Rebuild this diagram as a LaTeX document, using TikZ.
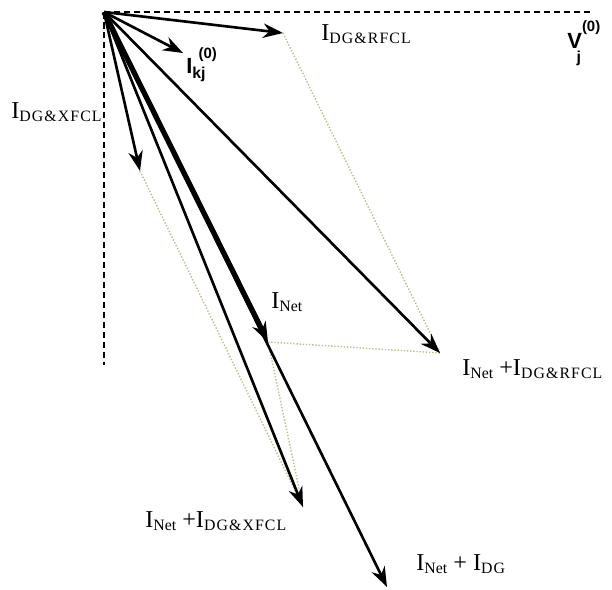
\documentclass[tikz,border=0pt]{standalone}
\usepackage{fontspec}
\setmainfont{Liberation Serif}
\setsansfont{Liberation Sans}
\usepackage{xcolor}
\usepackage{tikz}
\usetikzlibrary{arrows.meta}
\definecolor{dotcol}{RGB}{196,186,140}
\newcommand{\subsz}{\fontsize{9}{9}\selectfont}
\newcommand{\cur}[1]{I\raisebox{-1.8pt}{\subsz\addfontfeature{LetterSpace=7}#1}}
\newcommand{\curnet}{I\raisebox{-1.8pt}{\subsz Net}}
\tikzset{
  vec/.style={-{Stealth[length=4mm, width=2.9mm]}, line width=1.5pt},
  vecthick/.style={vec, line width=3pt},
  axis/.style={dash pattern=on 1.3mm off 0.7mm, line width=0.7pt},
  comp/.style={densely dotted, line width=0.8pt, color=dotcol},
  lbl/.style={font=\fontsize{13.8}{14}\selectfont, inner sep=0pt, anchor=base west},
  slbl/.style={font=\fontsize{12.5}{13}\selectfont\sffamily\bfseries, inner sep=0pt, anchor=base west}
}
\begin{document}
\begin{tikzpicture}[x=0.02cm, y=-0.02cm]
\useasboundingbox (0,0) rectangle (612,589);
% origin, reference axes
\coordinate (O) at (104,12);
\coordinate (hend) at (590,12);
\coordinate (vend) at (104,365);
\draw[axis] (O) -- (hend);
\draw[axis] (O) -- (vend);
% vector tips
\coordinate (rf) at (283,33);
\coordinate (kj) at (183,53);
\coordinate (xf) at (140,171);
\coordinate (net) at (268,342);
\coordinate (netrf) at (440,353);
\coordinate (netxf) at (303,507);
\coordinate (netdg) at (387,587);
% parallelogram sides
\draw[comp] (rf) -- (netrf);
\draw[comp] (net) -- (netrf);
\draw[comp] (xf) -- (netxf);
\draw[comp] (net) -- (netxf);
% vectors
\draw[vec] (O) -- (netdg);
\draw[vec] (O) -- (netxf);
\draw[vec] (O) -- (netrf);
\draw[vecthick] (O) -- (net);
\draw[vec] (O) -- (xf);
\draw[vec] (O) -- (kj);
\draw[vec] (O) -- (rf);
% labels
\node[lbl] (lrf) at (321,40) {\cur{DG\&RFCL}};
\node[lbl] (lxf) at (11,118) {\cur{DG\&XFCL}};
\node[lbl] (lnet) at (271,308) {\curnet};
\node[lbl] (lnetrf) at (462,375) {\curnet\ +\cur{DG\&RFCL}};
\node[lbl] (lnetxf) at (145,527) {\curnet\ +\cur{DG\&XFCL}};
\node[lbl] (lnetdg) at (416,570) {\curnet\ + \cur{DG}};
\node[slbl] (lv) at (567,48) {V\raisebox{9.5pt}{\fontsize{8.5}{8}\selectfont(0)}\hspace{-13.5pt}\raisebox{-8.5pt}{\fontsize{9}{8}\selectfont j}};
\node[slbl] (lkj) at (186,73) {I\raisebox{-3pt}{\fontsize{9}{8}\selectfont kj}\hspace{-4pt}\raisebox{8pt}{\fontsize{8.5}{8}\selectfont(0)}};
\end{tikzpicture}
\end{document}
